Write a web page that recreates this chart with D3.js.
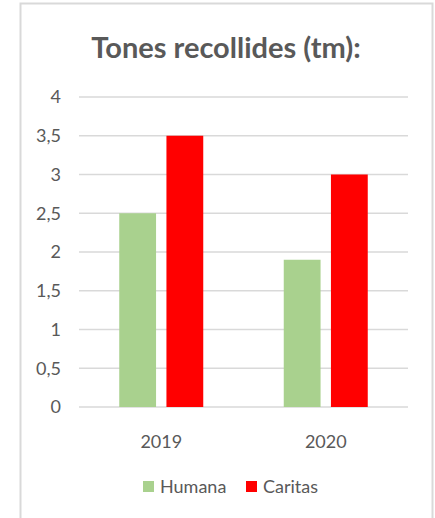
<!DOCTYPE html>
<html>
<head>
<meta charset="utf-8">
<script src="https://cdn.jsdelivr.net/npm/d3@7"></script>
<style>
  body { margin: 0; background: #fff; }
  text { font-family: Lato, "Open Sans", sans-serif; fill: #595959; }
</style>
</head>
<body>
<div id="chart"></div>
<script>
// data
const years = ['2019', '2020'];
const seriesNames = ['Humana', 'Caritas'];
const humana = [2.5, 1.9];
const caritas = [3.5, 3];
const yTicks = [0, 0.5, 1, 1.5, 2, 2.5, 3, 3.5, 4];
const colors = ['#a9d18e', '#ff0000'];

const W = 435, H = 518;
const svg = d3.select('#chart').append('svg')
  .attr('width', W)
  .attr('height', H);

// chart frame
svg.append('rect')
  .attr('x', 20.5).attr('y', 3.5)
  .attr('width', 412).attr('height', 530)
  .attr('fill', 'none')
  .attr('stroke', '#d9d9d9')
  .attr('stroke-width', 2);

// title
svg.append('text')
  .attr('x', 226)
  .attr('y', 58)
  .attr('text-anchor', 'middle')
  .style('font-size', '29px')
  .style('font-weight', 'bold')
  .text('Tones recollides (tm):');

const x = d3.scaleBand().domain(years).range([79, 408]);
const inner = d3.scaleBand().domain(seriesNames).range([0, 84]).paddingInner(0.22);
const y = d3.scaleLinear().domain([0, 4]).range([407, 97]);

// gridlines
svg.append('g')
  .selectAll('line')
  .data(yTicks)
  .join('line')
  .attr('x1', 79).attr('x2', 408)
  .attr('y1', d => y(d)).attr('y2', d => y(d))
  .attr('stroke', '#d9d9d9')
  .attr('stroke-width', 1.5);

// y axis labels
const fmt = d => String(d).replace('.', ',');
svg.append('g')
  .attr('transform', 'translate(61,0)')
  .call(d3.axisLeft(y).tickValues(yTicks).tickFormat(fmt).tickSize(0).tickPadding(0))
  .call(g => g.select('.domain').remove())
  .selectAll('text')
  .style('font-size', '18px')
  .style('font-family', 'Lato, "Open Sans", sans-serif')
  .attr('fill', '#595959');

// bars
const rows = years.map((yr, i) => ({ year: yr, values: [humana[i], caritas[i]] }));
const groups = svg.append('g').selectAll('g')
  .data(rows)
  .join('g')
  .attr('transform', d => `translate(${x(d.year) + x.bandwidth() / 2 - 42},0)`);

groups.selectAll('rect')
  .data(d => d.values.map((v, j) => ({ name: seriesNames[j], value: v, c: colors[j] })))
  .join('rect')
  .attr('x', d => inner(d.name))
  .attr('y', d => y(d.value))
  .attr('width', inner.bandwidth())
  .attr('height', d => y(0) - y(d.value))
  .attr('fill', d => d.c);

// x axis labels
svg.append('g')
  .attr('transform', 'translate(0,407)')
  .call(d3.axisBottom(x).tickSize(0).tickPadding(28))
  .call(g => g.select('.domain').remove())
  .selectAll('text')
  .style('font-size', '18px')
  .style('font-family', 'Lato, "Open Sans", sans-serif')
  .attr('fill', '#595959');

// legend
const legendX = [143, 246];
const legend = svg.append('g').selectAll('g')
  .data(seriesNames)
  .join('g')
  .attr('transform', (d, i) => `translate(${legendX[i]},481)`);
legend.append('rect')
  .attr('width', 11).attr('height', 11)
  .attr('fill', (d, i) => colors[i]);
legend.append('text')
  .attr('x', 17).attr('y', 12)
  .style('font-size', '18px')
  .text(d => d);
</script>
</body>
</html>
